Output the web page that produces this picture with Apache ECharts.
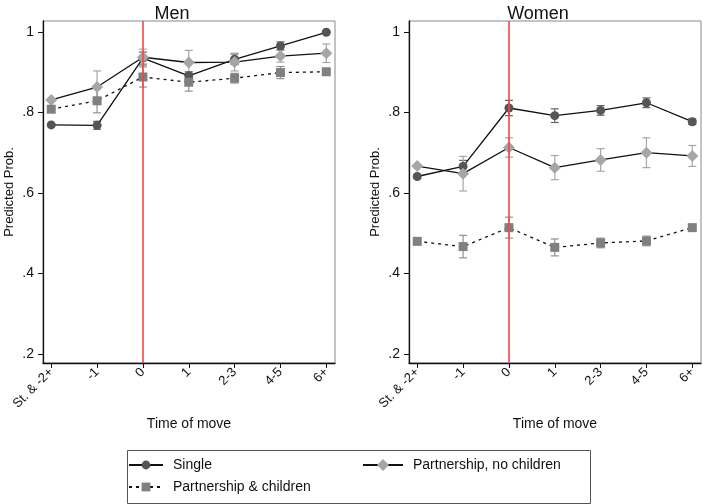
<!DOCTYPE html>
<html>
<head>
<meta charset="utf-8">
<script src="https://cdn.jsdelivr.net/npm/echarts@6/dist/echarts.min.js"></script>
<style>
	html, body { margin: 0; padding: 0; background: #fff; }
	#chart { width: 703px; height: 504px; }
</style>
</head>
<body>
<div id="chart"></div>
<script>
const categories = ['St. & -2+', '-1', '0', '1', '2-3', '4-5', '6+'];
const yTicks = [0.2, 0.4, 0.6, 0.8, 1];
const moveAt = 2;

/* Men */
const menSingle = [0.769, 0.768, 0.935, 0.891, 0.932, 0.965, 0.999];
const menSingleCi = [0, 0.01, 0.015, 0.01, 0.013, 0.01, 0.003];
const menNoKids = [0.831, 0.863, 0.937, 0.924, 0.925, 0.94, 0.947];
const menNoKidsCi = [0, 0.04, 0.02, 0.03, 0.022, 0.015, 0.023];
const menKids = [0.808, 0.829, 0.888, 0.875, 0.885, 0.899, 0.901];
const menKidsCi = [0, 0.03, 0.025, 0.022, 0.012, 0.015, 0.003];

/* Women */
const womenSingle = [0.641, 0.666, 0.811, 0.792, 0.805, 0.824, 0.777];
const womenSingleCi = [0, 0.015, 0.019, 0.017, 0.012, 0.012, 0.007];
const womenNoKids = [0.667, 0.648, 0.713, 0.663, 0.682, 0.7, 0.692];
const womenNoKidsCi = [0, 0.043, 0.024, 0.03, 0.028, 0.037, 0.026];
const womenKids = [0.48, 0.467, 0.514, 0.465, 0.476, 0.481, 0.514];
const womenKidsCi = [0, 0.028, 0.026, 0.021, 0.012, 0.012, 0.004];

const FONT = 'Liberation Sans, Arial, sans-serif';
const groups = [
	{ name: 'Single', color: '#555555', bar: '#666666', symbol: 'circle', size: 9, dash: 'solid' },
	{ name: 'Partnership, no children', color: '#a6a6a6', bar: '#a6a6a6', symbol: 'diamond', size: 12, dash: 'solid' },
	{ name: 'Partnership & children', color: '#808080', bar: '#909090', symbol: 'rect', size: 9, dash: [3, 4] }
];

const toPoints = vals => vals.map((v, i) => [i, v]);
const toBars = (vals, ci) => vals.map((v, i) => [i, v - ci[i], v + ci[i]]).filter((d, i) => ci[i] > 0);
const tickText = v => (v === 1 ? '1' : '.' + Math.round(v * 10));

const chart = echarts.init(document.getElementById('chart'));

function errorBars(idx, data, color) {
	return {
		type: 'custom',
		xAxisIndex: idx,
		yAxisIndex: idx,
		z: 2,
		silent: true,
		encode: { x: 0, y: [1, 2] },
		data: data,
		renderItem(params, api) {
			const x = api.value(0);
			const top = api.coord([x, api.value(2)]);
			const bot = api.coord([x, api.value(1)]);
			const w = 4;
			const style = { stroke: color, lineWidth: 1.2 };
			return {
				type: 'group',
				children: [
					{ type: 'line', shape: { x1: top[0], y1: top[1], x2: bot[0], y2: bot[1] }, style },
					{ type: 'line', shape: { x1: top[0] - w, y1: top[1], x2: top[0] + w, y2: top[1] }, style },
					{ type: 'line', shape: { x1: bot[0] - w, y1: bot[1], x2: bot[0] + w, y2: bot[1] }, style }
				]
			};
		}
	};
}

function lineSeries(idx, g, vals) {
	return {
		type: 'line',
		name: g.name,
		xAxisIndex: idx,
		yAxisIndex: idx,
		z: 3,
		data: toPoints(vals),
		symbol: g.symbol,
		symbolSize: g.size,
		itemStyle: { color: g.color },
		lineStyle: { color: '#111', width: 1.3, type: g.dash },
		emphasis: { disabled: true }
	};
}

function refLine(idx) {
	return {
		type: 'line',
		xAxisIndex: idx,
		yAxisIndex: idx,
		z: 1,
		data: [],
		markLine: {
			silent: true,
			symbol: 'none',
			label: { show: false },
			lineStyle: { color: '#f04848', width: 1.6, type: 'solid' },
			data: [{ xAxis: moveAt }]
		}
	};
}

const panels = [
	[menSingle, menSingleCi, menNoKids, menNoKidsCi, menKids, menKidsCi],
	[womenSingle, womenSingleCi, womenNoKids, womenNoKidsCi, womenKids, womenKidsCi]
];

const series = [];
panels.forEach((p, idx) => {
	series.push(refLine(idx));
	groups.forEach((g, k) => {
		series.push(errorBars(idx, toBars(p[k * 2], p[k * 2 + 1]), g.bar));
	});
	groups.forEach((g, k) => {
		series.push(lineSeries(idx, g, p[k * 2]));
	});
});

const grids = [
	{ left: 43, right: 368, top: 21, bottom: 141 },
	{ left: 409, right: 2, top: 21, bottom: 141 }
].map(g => Object.assign(g, { show: true, borderColor: '#8a8a8a', borderWidth: 1 }));

const xAxes = [0, 1].map(idx => ({
	type: 'value',
	gridIndex: idx,
	min: -0.18,
	max: 6.19,
	name: 'Time of move',
	nameLocation: 'middle',
	nameGap: 42,
	nameTextStyle: { fontFamily: FONT, fontSize: 14, color: '#111' },
	splitLine: { show: false },
	axisLine: { show: true, onZero: false, lineStyle: { color: '#111', width: 1.3 } },
	axisTick: { show: true, length: 5, customValues: categories.map((c, i) => i), lineStyle: { color: '#111' } },
	axisLabel: {
		customValues: categories.map((c, i) => i),
		rotate: 45,
		margin: 7,
		fontFamily: FONT,
		fontSize: 13,
		color: '#111',
		formatter: v => categories[v]
	}
}));

const yAxes = [0, 1].map(idx => ({
	type: 'value',
	gridIndex: idx,
	min: 0.178,
	max: 1.027,
	name: 'Predicted Prob.',
	nameLocation: 'middle',
	nameGap: 27,
	nameTextStyle: { fontFamily: FONT, fontSize: 13, color: '#111' },
	splitLine: { show: false },
	axisLine: { show: true, onZero: false, lineStyle: { color: '#111', width: 1.3 } },
	axisTick: { show: true, length: 5, customValues: yTicks, lineStyle: { color: '#111' } },
	axisLabel: {
		customValues: yTicks,
		margin: 9,
		fontFamily: FONT,
		fontSize: 14,
		color: '#111',
		formatter: v => tickText(v)
	}
}));

const legendBase = {
	orient: 'horizontal',
	itemWidth: 34,
	itemHeight: 11,
	padding: 0,
	selectedMode: false,
	textStyle: { fontFamily: FONT, fontSize: 14, color: '#111', padding: [0, 0, 0, 5] }
};

chart.setOption({
	animation: false,
	backgroundColor: '#fff',
	title: [
		{ text: 'Men', left: 167, top: 0, textAlign: 'center', textStyle: { fontFamily: FONT, fontSize: 18, fontWeight: 'normal', color: '#111' } },
		{ text: 'Women', left: 533, top: 0, textAlign: 'center', textStyle: { fontFamily: FONT, fontSize: 18, fontWeight: 'normal', color: '#111' } }
	],
	grid: grids,
	xAxis: xAxes,
	yAxis: yAxes,
	legend: [
		Object.assign({}, legendBase, { left: 128, top: 458, data: [groups[0].name] }),
		Object.assign({}, legendBase, { left: 362, top: 458, itemHeight: 15, itemWidth: 40, data: [groups[1].name] }),
		Object.assign({}, legendBase, { left: 128, top: 480, data: [groups[2].name] })
	],
	graphic: [
		{
			type: 'rect',
			left: 125,
			top: 448,
			shape: { width: 463, height: 53 },
			style: { fill: 'none', stroke: '#555', lineWidth: 1 },
			silent: true
		}
	],
	series: series
});
</script>
</body>
</html>
